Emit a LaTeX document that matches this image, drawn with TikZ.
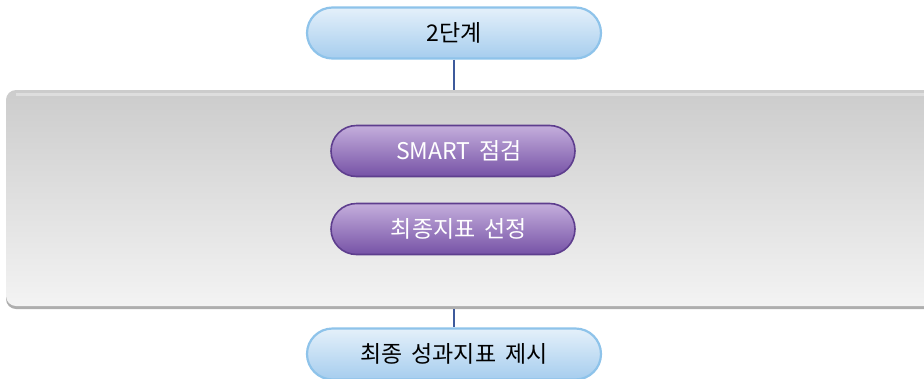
\documentclass[tikz,border=0pt]{standalone}
\usepackage{fontspec}
\setmainfont[WordSpace=1.8]{Noto Sans CJK KR}
\usetikzlibrary{shapes.misc}
\definecolor{bluetop}{HTML}{E4F0FA}
\definecolor{bluebot}{HTML}{A6CDEE}
\definecolor{blueedge}{HTML}{8EC3EA}
\definecolor{purtop}{HTML}{C4AEDC}
\definecolor{purbot}{HTML}{7652A6}
\definecolor{puredge}{HTML}{5E3E8E}
\definecolor{graytop}{HTML}{CCCCCC}
\definecolor{graybot}{HTML}{F3F3F3}
\definecolor{grayedge}{HTML}{AEAEAE}
\definecolor{linkc}{HTML}{3E5A9C}
\tikzset{
  x=1pt,y=-1pt,
  bluepill/.style={rounded rectangle, minimum width=294pt, minimum height=51pt,
    top color=bluetop, bottom color=bluebot, draw=blueedge, line width=2.2pt,
    font=\fontsize{23}{27}\selectfont, text=black, inner sep=0pt},
  purpill/.style={rounded rectangle, minimum width=244pt, minimum height=51pt,
    top color=purtop, bottom color=purbot, draw=puredge, line width=1.6pt,
    font=\fontsize{23}{27}\selectfont, text=white, inner sep=0pt},
  link/.style={draw=linkc, line width=2.5pt},
}
\begin{document}
\begin{tikzpicture}
\useasboundingbox (0,0) rectangle (924,378);
% panel
\fill[grayedge, rounded corners=10pt] (6,92) rectangle (960,309);
\shade[top color=graytop, bottom color=graybot, rounded corners=10pt] (6,90) rectangle (960,306);
\fill[white, opacity=0.35] (16,93) rectangle (960,96);
\coordinate (ptop) at (454,90);
\coordinate (pbot) at (454,309);
% nodes
\node[bluepill] (s2) at (454,33) {2단계};
\node[purpill] (smart) at (453,151) {\hspace*{12pt}SMART 점검};
\node[purpill] (final) at (453,229) {\hspace*{12pt}최종지표 선정};
\node[bluepill] (res) at (454,354) {최종 성과지표 제시};
% connectors
\draw[link] (s2.south) -- (ptop);
\draw[link] (pbot) -- (res.north);
\end{tikzpicture}
\end{document}
